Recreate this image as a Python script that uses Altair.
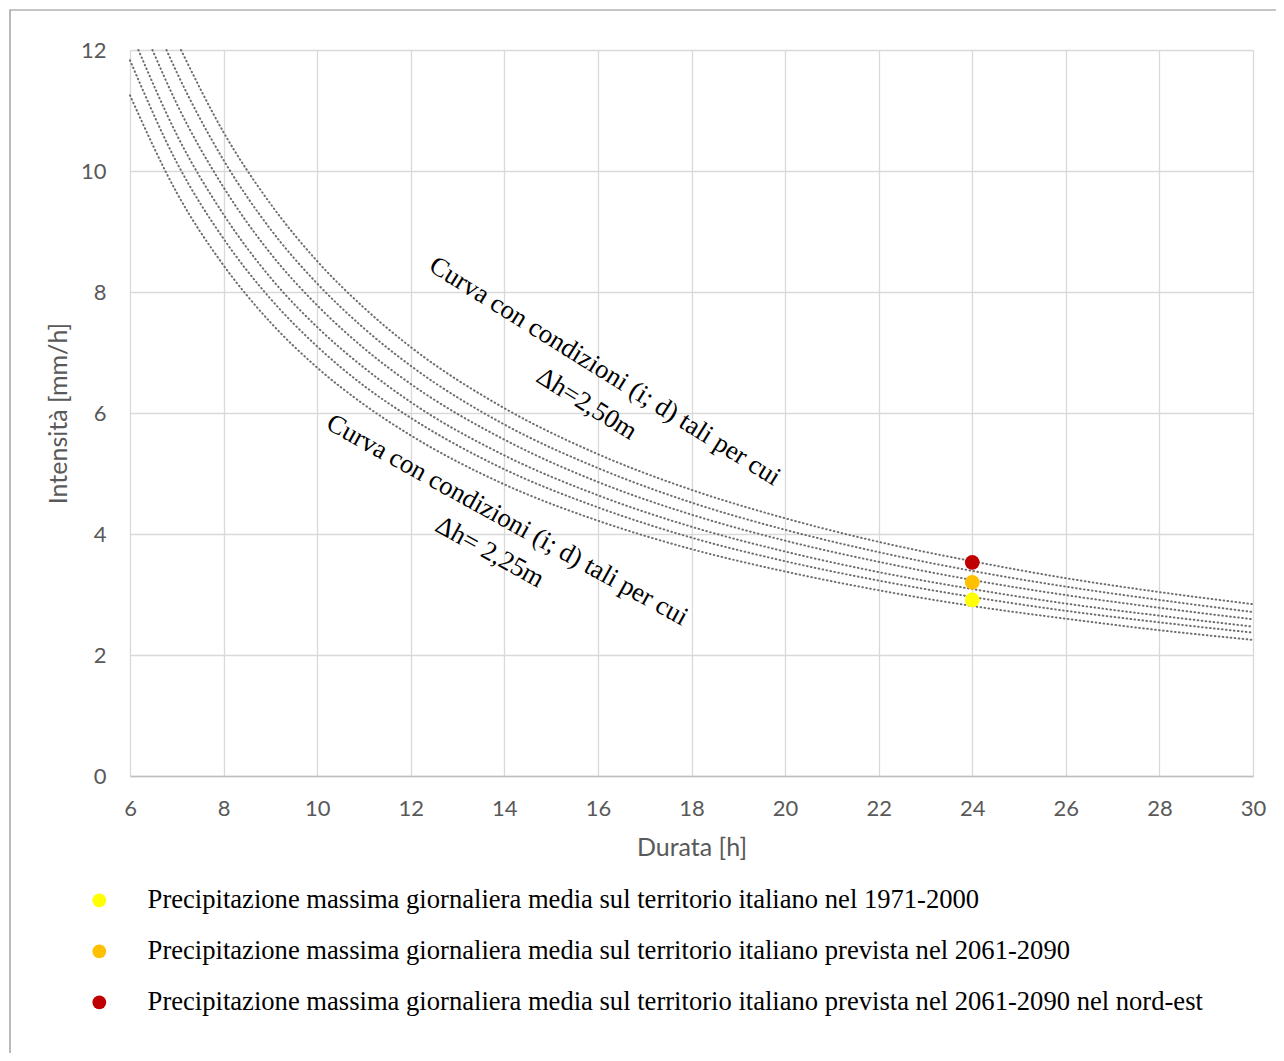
import altair as alt
import pandas as pd

# ---- dotted curves (duration [h], intensity [mm/h]) ----
d_full = [6, 7, 8, 9, 10, 11, 12, 14, 16, 18, 20, 22, 24, 26, 28, 30]
i_c1 = [11.25, 9.64, 8.44, 7.50, 6.75, 6.14, 5.63, 4.82, 4.22, 3.75, 3.38, 3.07, 2.81, 2.60, 2.41, 2.25]
i_c2 = [11.83, 10.14, 8.88, 7.89, 7.10, 6.45, 5.92, 5.07, 4.44, 3.94, 3.55, 3.23, 2.96, 2.73, 2.54, 2.37]
d_c3 = [6.18, 7, 8, 9, 10, 11, 12, 14, 16, 18, 20, 22, 24, 26, 28, 30]
i_c3 = [12.0, 10.60, 9.28, 8.24, 7.42, 6.75, 6.18, 5.30, 4.64, 4.12, 3.71, 3.37, 3.09, 2.85, 2.65, 2.47]
d_c4 = [6.48, 7, 8, 9, 10, 11, 12, 14, 16, 18, 20, 22, 24, 26, 28, 30]
i_c4 = [12.0, 11.11, 9.73, 8.64, 7.78, 7.07, 6.48, 5.56, 4.86, 4.32, 3.89, 3.54, 3.24, 2.99, 2.78, 2.59]
d_c5 = [6.78, 7, 8, 9, 10, 11, 12, 14, 16, 18, 20, 22, 24, 26, 28, 30]
i_c5 = [12.0, 11.63, 10.18, 9.04, 8.14, 7.40, 6.78, 5.81, 5.09, 4.52, 4.07, 3.70, 3.39, 3.13, 2.91, 2.71]
d_c6 = [7.09, 8, 9, 10, 11, 12, 14, 16, 18, 20, 22, 24, 26, 28, 30]
i_c6 = [12.0, 10.64, 9.46, 8.51, 7.74, 7.09, 6.08, 5.32, 4.73, 4.26, 3.87, 3.55, 3.27, 3.04, 2.84]

# ---- highlighted points ----
point_durations = [24, 24, 24]
point_intensities = [2.91, 3.20, 3.53]
point_labels = [
    "Precipitazione massima giornaliera media sul territorio italiano nel 1971-2000",
    "Precipitazione massima giornaliera media sul territorio italiano prevista nel 2061-2090",
    "Precipitazione massima giornaliera media sul territorio italiano prevista nel 2061-2090 nel nord-est",
]
point_colors = ["#FFFF00", "#FFC000", "#C00000"]

# ---- annotations ----
ann1_text = ["Curva con condizioni (i; d) tali per cui", "Δh=2,50m"]
ann1_x = [16.15, 15.76]
ann1_y = [6.69, 6.15]
ann2_text = ["Curva con condizioni (i; d) tali per cui", "Δh= 2,25m"]
ann2_x = [14.06, 13.69]
ann2_y = [4.23, 3.70]

curves = [
    ("c1", d_full, i_c1), ("c2", d_full, i_c2), ("c3", d_c3, i_c3),
    ("c4", d_c4, i_c4), ("c5", d_c5, i_c5), ("c6", d_c6, i_c6),
]
rows = []
for name, ds, vs in curves:
    for k, (d, v) in enumerate(zip(ds, vs)):
        rows.append({"curve": name, "d": d, "i": v, "order": k})
df_curves = pd.DataFrame(rows)
df_points = pd.DataFrame({"d": point_durations, "i": point_intensities, "serie": point_labels})
df_ann1 = pd.DataFrame({"d": ann1_x, "i": ann1_y, "t": ann1_text})
df_ann2 = pd.DataFrame({"d": ann2_x, "i": ann2_y, "t": ann2_text})

AXIS_FONT = "Lato"
GRAY = "#595959"

x_enc = alt.X(
    "d:Q",
    scale=alt.Scale(domain=[6, 30], nice=False),
    axis=alt.Axis(
        values=list(range(6, 31, 2)), format="d", title="Durata [h]", grid=True, ticks=False,
        domainColor="#BFBFBF", domainWidth=1.5, gridColor="#D9D9D9", gridWidth=1.3,
        labelFont=AXIS_FONT, labelFontSize=22, labelColor=GRAY, labelPadding=22,
        labelFlush=False, labelOverlap=False,
        titleFont=AXIS_FONT, titleFontSize=25, titleColor=GRAY, titleFontWeight="normal",
        titlePadding=16,
    ),
)
y_enc = alt.Y(
    "i:Q",
    scale=alt.Scale(domain=[0, 12], nice=False),
    axis=alt.Axis(
        values=list(range(0, 13, 2)), format="d", title="Intensità [mm/h]", grid=True,
        ticks=False, domain=False, gridColor="#D9D9D9", gridWidth=1.3,
        labelFont=AXIS_FONT, labelFontSize=22, labelColor=GRAY, labelPadding=24,
        labelFlush=False, labelOverlap=False,
        titleFont=AXIS_FONT, titleFontSize=25, titleColor=GRAY, titleFontWeight="normal",
        titlePadding=9,
    ),
)

lines = alt.Chart(df_curves).mark_line(
    color="#6E6E6E", strokeWidth=2.0, strokeDash=[0.6, 3.4], strokeCap="round",
    interpolate="monotone",
).encode(x=x_enc, y=y_enc, detail="curve:N", order="order:Q")

points = alt.Chart(df_points).mark_circle(size=216, opacity=1).encode(
    x="d:Q",
    y="i:Q",
    color=alt.Color(
        "serie:N",
        scale=alt.Scale(domain=point_labels, range=point_colors),
        legend=alt.Legend(
            title=None, orient="none", legendX=-44, legendY=837, direction="vertical",
            labelFont="Liberation Serif", labelFontSize=26.6, labelColor="#000000",
            labelLimit=2000, symbolType="circle", symbolSize=190, symbolStrokeWidth=0,
            labelOffset=35, rowPadding=24, padding=0,
        ),
    ),
)

txt1 = alt.Chart(df_ann1).mark_text(
    font="Liberation Serif", fontSize=26.6, angle=32, align="center", baseline="middle",
    color="#000000",
).encode(x="d:Q", y="i:Q", text="t:N")
txt2 = alt.Chart(df_ann2).mark_text(
    font="Liberation Serif", fontSize=26.6, angle=29, align="center", baseline="middle",
    color="#000000",
).encode(x="d:Q", y="i:Q", text="t:N")

frame = alt.Chart(pd.DataFrame({"k": [0]})).mark_rect(
    fillOpacity=0, stroke="#8C8C8C", strokeWidth=1.2,
).encode(x=alt.value(-120), x2=alt.value(1300), y=alt.value(-40), y2=alt.value(1100))

chart = alt.layer(frame, lines, points, txt1, txt2).properties(
    width=1123, height=726,
    padding={"left": 122, "top": 42, "right": 23, "bottom": 277},
    autosize=alt.AutoSizeParams(type="none"),
    background="white",
).configure_view(stroke="transparent")

chart.save("out.html", embed_options={"renderer": "svg", "actions": False})
